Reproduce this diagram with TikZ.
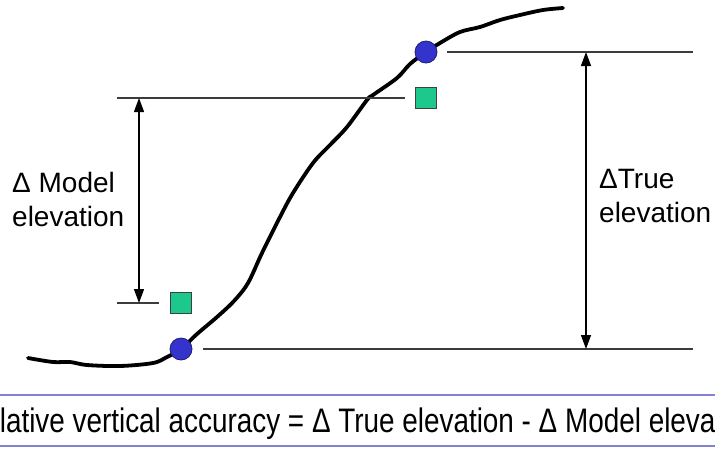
\documentclass[tikz,border=0pt]{standalone}
\usepackage{fontspec}
\setmainfont{Liberation Sans}
\usetikzlibrary{arrows.meta}
\definecolor{dotblue}{RGB}{52,52,204}
\definecolor{dotedge}{RGB}{30,30,120}
\definecolor{sqgreen}{RGB}{28,200,140}
\definecolor{lineg}{RGB}{60,60,60}
\definecolor{bandline}{RGB}{130,130,210}
\tikzset{
  dot/.style={circle,fill=dotblue,draw=dotedge,line width=0.8pt,minimum size=22pt,inner sep=0pt},
  sq/.style={rectangle,fill=sqgreen,draw=black!75,line width=0.9pt,minimum size=21pt,inner sep=0pt},
  refline/.style={lineg,line width=1.4pt},
  dimarrow/.style={black,line width=1.3pt,{Triangle[length=14pt,width=10pt]}-{Triangle[length=14pt,width=10pt]}},
  lbl/.style={align=left,inner sep=0pt,font=\fontsize{28}{34}\selectfont},
  terrain/.style={black,line width=3.8pt,line cap=round,line join=round}
}
\begin{document}
\begin{tikzpicture}[x=1pt,y=-1pt]
\useasboundingbox (0,0) rectangle (715,448);
% terrain profile
\draw[terrain] plot[smooth,tension=0.55] coordinates {
 (28,358) (53,362) (70,362) (87,365) (120,366) (153,363) (167,357) (181,349)
 (197,334) (217,317) (234,301) (248,283) (262,253) (280,217) (293,193)
 (313,163) (330,145) (347,127) (367,100) (373,95) (397,78) (410,64) (426,52)
 (440,43) (460,32) (480,27) (500,20) (520,15) (543,10) (563,8)};
% points
\node[dot] (lowdot) at (181,349) {};
\node[dot] (highdot) at (426,52) {};
\node[sq] (lowsq) at (181,303) {};
\node[sq] (highsq) at (426,98) {};
% reference lines
\coordinate (tl) at (447,52);  \coordinate (tr) at (693,52);
\coordinate (bl) at (203,349); \coordinate (br) at (693,349);
\coordinate (ml) at (117,98);  \coordinate (mr) at (405,98);
\coordinate (nl) at (117,303); \coordinate (nr) at (159,303);
\draw[refline] (tl) -- (tr);
\draw[refline] (bl) -- (br);
\draw[refline] (ml) -- (mr);
\draw[refline] (nl) -- (nr);
% dimension arrows
\coordinate (mtop) at (139,98); \coordinate (mbot) at (139,303);
\coordinate (ttop) at (586,52); \coordinate (tbot) at (586,349);
\draw[dimarrow] (mtop) -- (mbot);
\draw[dimarrow] (ttop) -- (tbot);
% labels (base = baseline of last line)
\node[lbl,anchor=base west] (modellbl) at (12,226) {Δ Model\\elevation};
\node[lbl,anchor=base west] (truelbl) at (599,222) {ΔTrue\\elevation};
% bottom band
\coordinate (b1l) at (0,395); \coordinate (b1r) at (715,395);
\coordinate (b2l) at (0,446); \coordinate (b2r) at (715,446);
\draw[bandline,line width=2pt] (b1l) -- (b1r);
\draw[bandline,line width=2pt] (b2l) -- (b2r);
\begin{scope}
\clip (0,0) rectangle (715,448);
\node[anchor=base west,inner sep=0pt] (formula) at (-36,432)
  {\scalebox{0.82}[1]{\fontsize{34}{40}\selectfont Relative vertical accuracy = Δ True elevation - Δ Model elevation}};
\end{scope}
\end{tikzpicture}
\end{document}
